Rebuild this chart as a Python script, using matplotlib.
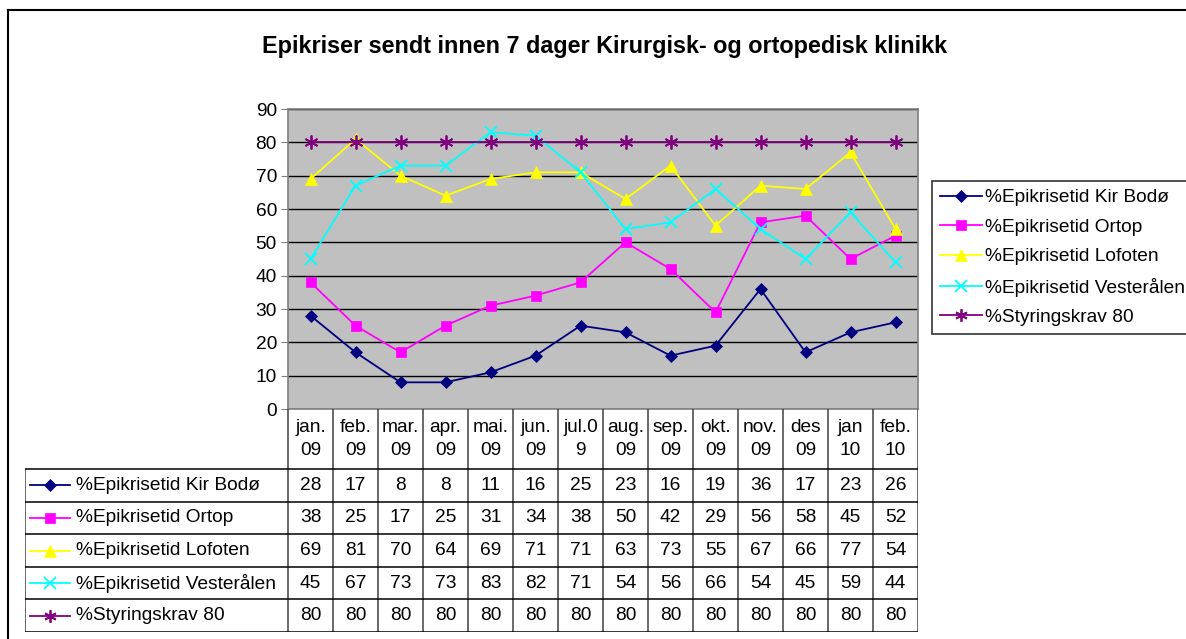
import matplotlib
matplotlib.use("Agg")

import matplotlib.pyplot as plt
from matplotlib.lines import Line2D
import numpy as np

plt.rcParams['font.family'] = ['Liberation Sans', 'DejaVu Sans']

# ---- data ----
months = ["jan.\n09", "feb.\n09", "mar.\n09", "apr.\n09", "mai.\n09", "jun.\n09",
          "jul.0\n9", "aug.\n09", "sep.\n09", "okt.\n09", "nov.\n09", "des\n09",
          "jan\n10", "feb.\n10"]
kir_bodo = [28, 17, 8, 8, 11, 16, 25, 23, 16, 19, 36, 17, 23, 26]
ortop = [38, 25, 17, 25, 31, 34, 38, 50, 42, 29, 56, 58, 45, 52]
lofoten = [69, 81, 70, 64, 69, 71, 71, 63, 73, 55, 67, 66, 77, 54]
vesteralen = [45, 67, 73, 73, 83, 82, 71, 54, 56, 66, 54, 45, 59, 44]
styringskrav = [80] * 14

series = [
    ("%Epikrisetid Kir Bodø", kir_bodo, "#000080", "D", 6.5),
    ("%Epikrisetid Ortop", ortop, "#FF00FF", "s", 7.5),
    ("%Epikrisetid Lofoten", lofoten, "#FFFF00", "^", 9),
    ("%Epikrisetid Vesterålen", vesteralen, "#00FFFF", "x", 9),
    ("%Styringskrav 80", styringskrav, "#800080", (6, 2, 0), 10),
]

FS = 13.8

W, H = 1186, 639
fig = plt.figure(figsize=(W / 100, H / 100), dpi=100)

# pixel layout
plot_l, plot_r, plot_t, plot_b = 288, 918, 109, 409
col_w = (plot_r - plot_l) / len(months)


def fx(px):
    return px / W


def fy(py):
    return 1 - py / H


def mew(marker):
    return 1.3 if marker == "x" or isinstance(marker, tuple) else 0.5


# outer chart frame (clipped at right / bottom)
frame = fig.add_axes([0, 0, 1, 1])
frame.set_xlim(0, W)
frame.set_ylim(H, 0)
frame.axis("off")
frame.plot([8, 8], [10, H + 5], color="black", lw=1.5)
frame.plot([8, W + 5], [10, 10], color="black", lw=1.5)

fig.text(fx(605), fy(46), "Epikriser sendt innen 7 dager Kirurgisk- og ortopedisk klinikk",
         ha="center", va="center", fontsize=16.8, fontweight="bold")

# ---- main plot ----
ax = fig.add_axes([fx(plot_l), fy(plot_b), (plot_r - plot_l) / W, (plot_b - plot_t) / H])
ax.set_facecolor("#C0C0C0")
x = np.arange(len(months))
for name, vals, color, marker, ms in series:
    ax.plot(x, vals, color=color, lw=1.3, marker=marker, markersize=ms,
            markeredgewidth=mew(marker), markerfacecolor=color,
            markeredgecolor=color, label=name, zorder=3)
ax.set_xlim(-0.5, len(months) - 0.5)
ax.set_ylim(0, 90)
ax.set_yticks(range(0, 91, 10))
ax.yaxis.grid(True, color="black", lw=1)
ax.set_axisbelow(True)
ax.set_xticks([])
ax.tick_params(axis="y", labelsize=FS, length=5, color="#808080", pad=3)
for s in ax.spines.values():
    s.set_color("#808080")
    s.set_linewidth(1.2)

# ---- legend ----
handles = [Line2D([], [], color=c, marker=m, markersize=ms * 0.9,
                  markerfacecolor=c, markeredgecolor=c,
                  markeredgewidth=mew(m), lw=1.3)
           for _, _, c, m, ms in series]
leg = fig.legend(handles, [s[0] for s in series], loc="upper left",
                 bbox_to_anchor=(fx(932), fy(181)), fontsize=FS, frameon=True,
                 fancybox=False, edgecolor="black", handlelength=2.2,
                 handletextpad=0.15, labelspacing=0.63, borderpad=0.42,
                 borderaxespad=0)
leg.get_frame().set_linewidth(1.2)

# ---- data table ----
tab_l, tab_t, tab_b = 25, 409, 632
head_h = 60
row_h = (tab_b - tab_t - head_h) / len(series)
tax = fig.add_axes([fx(tab_l), fy(tab_b), (plot_r - tab_l) / W, (tab_b - tab_t) / H])
x_left = -0.5 - (plot_l - tab_l) / col_w
tax.set_xlim(x_left, len(months) - 0.5)
tax.set_ylim(tab_b - tab_t, 0)
tax.axis("off")


def px2x(px):
    return -0.5 + (px - plot_l) / col_w


line_kw = dict(color="#404040", lw=1.1, solid_capstyle="butt")
# vertical lines
for i in range(len(months) + 1):
    tax.plot([i - 0.5, i - 0.5], [0, tab_b - tab_t], **line_kw)
tax.plot([x_left + 0.01, x_left + 0.01], [head_h, tab_b - tab_t], **line_kw)
# horizontal lines
for r in range(len(series) + 1):
    y = head_h + r * row_h
    tax.plot([x_left, len(months) - 0.5], [y, y], color="black", lw=1.1)

# header labels
for i, m in enumerate(months):
    tax.text(i, head_h / 2, m, ha="center", va="center", fontsize=FS,
             linespacing=1.45)

# rows
for r, (name, vals, color, marker, ms) in enumerate(series):
    yc = head_h + (r + 0.5) * row_h
    tax.plot([px2x(30), px2x(70)], [yc, yc], color=color, lw=1.3)
    tax.plot([px2x(50)], [yc], marker=marker, color=color, markersize=ms * 0.9,
             markeredgewidth=mew(marker))
    tax.text(px2x(76), yc, name, ha="left", va="center", fontsize=FS)
    for i, v in enumerate(vals):
        tax.text(i, yc, str(v), ha="center", va="center", fontsize=FS)

fig.savefig("out.png", dpi=100)
